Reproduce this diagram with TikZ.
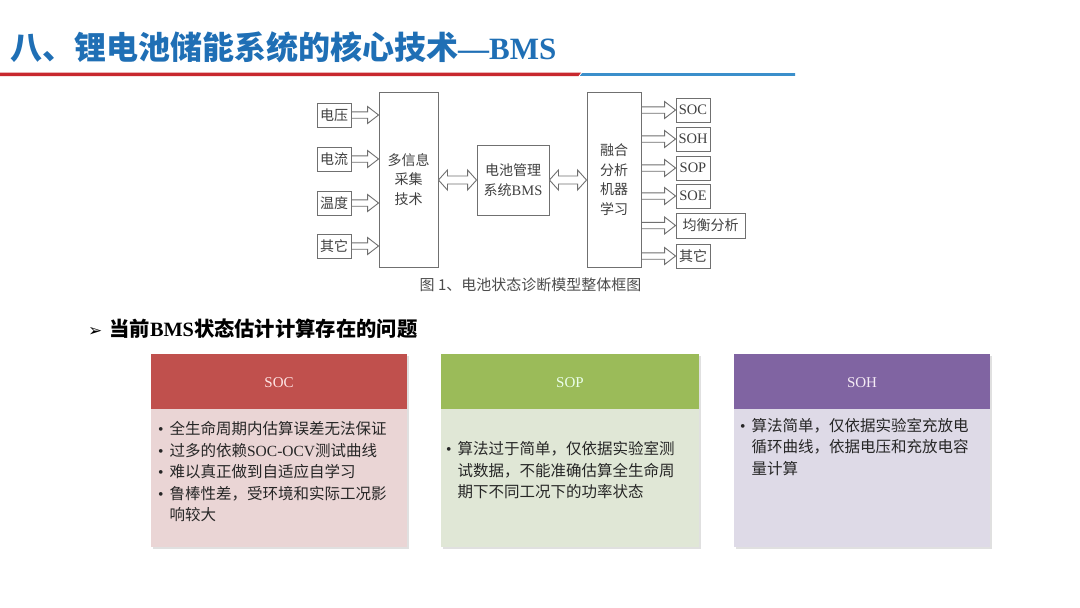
\documentclass[tikz,border=0pt]{standalone}
\usepackage{fontspec}
\setmainfont{Liberation Serif}
\newfontfamily\cjk{Noto Sans CJK SC}
\newfontfamily\dvs{DejaVu Sans}
\usetikzlibrary{calc}
\definecolor{titleblue}{HTML}{1F6FB5}
\definecolor{linered}{HTML}{C8282E}
\definecolor{lineblue}{HTML}{3B8FCB}
\definecolor{dgray}{HTML}{707070}
\definecolor{tgray}{HTML}{404040}
\definecolor{socH}{HTML}{C0504D}
\definecolor{socB}{HTML}{EAD5D5}
\definecolor{sopH}{HTML}{9BBB59}
\definecolor{sopB}{HTML}{E0E7D6}
\definecolor{sohH}{HTML}{8064A2}
\definecolor{sohB}{HTML}{DEDAE7}
\tikzset{
  box/.style={draw=dgray, line width=0.9pt, fill=white, inner sep=0pt, text=tgray,
     font=\cjk\fontsize{14}{19.5}\selectfont, align=center},
  arr/.style={draw=dgray, line width=0.9pt, fill=white},
  hdr/.style={inner sep=0pt, font=\fontsize{15}{18}\selectfont},
  bodytxt/.style={inner sep=0pt, anchor=north west, text=black!85,
     font=\cjk\fontsize{15.5}{21.5}\selectfont, align=left},
}
% hollow single arrow from node anchor #1 to the x of node anchor #2
\newcommand\harrow[2]{%
  \draw[arr] let \p1=(#1), \p2=(#2) in
   (\x1,\y1+3.2pt) -- (\x2-11pt,\y1+3.2pt) -- (\x2-11pt,\y1+8.5pt) -- (\x2,\y1)
   -- (\x2-11pt,\y1-8.5pt) -- (\x2-11pt,\y1-3.2pt) -- (\x1,\y1-3.2pt) -- cycle;}
% hollow double arrow between two node anchors
\newcommand\darrow[2]{%
  \draw[arr] let \p1=(#1), \p2=(#2) in
   (\x1,\y1) -- (\x1+9pt,\y1+10pt) -- (\x1+9pt,\y1+4pt) -- (\x2-9pt,\y1+4pt)
   -- (\x2-9pt,\y1+10pt) -- (\x2,\y1) -- (\x2-9pt,\y1-10pt) -- (\x2-9pt,\y1-4pt)
   -- (\x1+9pt,\y1-4pt) -- (\x1+9pt,\y1-10pt) -- cycle;}
\begin{document}
\begin{tikzpicture}[x=1pt,y=-1pt]
\useasboundingbox[fill=white] (0,0) rectangle (1080,608);

% ---- title ----
\node[anchor=west, inner sep=0pt, text=titleblue] (title) at (10,47)
  {{\cjk\bfseries\fontsize{32}{36}\selectfont 八、锂电池储能系统的核心技术}{\bfseries\fontsize{31}{36}\selectfont —BMS}};
\fill[linered] (0,72.6) -- (581,72.6) -- (578.5,76) -- (0,76) -- cycle;
\fill[lineblue] (582,73.2) -- (795,73.2) -- (795,75.8) -- (580,75.8) -- cycle;

% ---- diagram ----
\node[box, minimum width=34pt, minimum height=24pt] (v)  at (334,115) {电压};
\node[box, minimum width=34pt, minimum height=24pt] (i)  at (334,159) {电流};
\node[box, minimum width=34pt, minimum height=24pt] (t)  at (334,203) {温度};
\node[box, minimum width=34pt, minimum height=24pt] (o1) at (334,246) {其它};

\node[box, minimum width=59pt, minimum height=175pt] (col) at (408.5,179.5) {多信息\\采集\\技术};
\node[box, minimum width=72pt, minimum height=70pt] (bms) at (513,180)
  {电池管理\\系统{\rmfamily\fontsize{14.5}{19.5}\selectfont BMS}};
\node[box, minimum width=54pt, minimum height=175pt] (fus) at (614,179.5) {融合\\分析\\机器\\学习};

\node[box, minimum width=34pt, minimum height=24pt, font=\fontsize{14.5}{16}\selectfont] (soc) at (693,110) {SOC};
\node[box, minimum width=34pt, minimum height=24pt, font=\fontsize{14.5}{16}\selectfont] (soh) at (693,139) {SOH};
\node[box, minimum width=34pt, minimum height=24pt, font=\fontsize{14.5}{16}\selectfont] (sop) at (693,168) {SOP};
\node[box, minimum width=34pt, minimum height=24pt, font=\fontsize{14.5}{16}\selectfont] (soe) at (693,196) {SOE};
\node[box, minimum width=69pt, minimum height=25pt] (bal) at (710.5,225.5) {均衡分析};
\node[box, minimum width=34pt, minimum height=24pt] (o2) at (693,256) {其它};

\harrow{v.east}{col.west}
\harrow{i.east}{col.west}
\harrow{t.east}{col.west}
\harrow{o1.east}{col.west}
\darrow{col.east |- bms.west}{bms.west}
\darrow{bms.east}{fus.west |- bms.east}
\harrow{fus.east |- soc.west}{soc.west}
\harrow{fus.east |- soh.west}{soh.west}
\harrow{fus.east |- sop.west}{sop.west}
\harrow{fus.east |- soe.west}{soe.west}
\harrow{fus.east |- bal.west}{bal.west}
\harrow{fus.east |- o2.west}{o2.west}

\node[inner sep=0pt, text=black!70, font=\cjk\fontsize{15}{17}\selectfont] (cap) at (530.5,285)
  {图 1、电池状态诊断模型整体框图};

% ---- subtitle ----
\node[anchor=west, inner sep=0pt] (sub) at (88,329)
  {{\dvs\fontsize{17}{20}\selectfont ➢}\hspace{7pt}{\cjk\bfseries\fontsize{20.3}{22}\selectfont 当前}{\bfseries\fontsize{20.3}{22}\selectfont BMS}{\cjk\bfseries\fontsize{20.3}{22}\selectfont 状态估计计算存在的问题}};

% ---- cards ----
\foreach \xa/\xb/\hc/\bc in {151/407/socH/socB, 441/699/sopH/sopB, 734/990/sohH/sohB}{
  \fill[black!12] (\xa+2,356) rectangle (\xb+2,549);
  \fill[\bc] (\xa,354) rectangle (\xb,547);
  \fill[\hc] (\xa,354) rectangle (\xb,409);
}
\node[hdr, text=red!10!white] (h1) at (279,383) {SOC};
\node[hdr, text=green!8!white] (h2) at (570,383) {SOP};
\node[hdr, text=violet!8!white] (h3) at (862,383) {SOH};

\node[bodytxt] (b1) at (158,419.5)
 {\begin{tabular}{@{}l@{\hspace{6pt}}l@{}}
  {\rmfamily •} & 全生命周期内估算误差无法保证\\
  {\rmfamily •} & 过多的依赖{\rmfamily SOC-OCV}测试曲线\\
  {\rmfamily •} & 难以真正做到自适应自学习\\
  {\rmfamily •} & 鲁棒性差，受环境和实际工况影\\
  & 响较大
 \end{tabular}};
\node[bodytxt] (b2) at (446,439.5)
 {\begin{tabular}{@{}l@{\hspace{6pt}}l@{}}
  {\rmfamily •} & 算法过于简单，仅依据实验室测\\
  & 试数据，不能准确估算全生命周\\
  & 期下不同工况下的功率状态
 \end{tabular}};
\node[bodytxt] (b3) at (740,416)
 {\begin{tabular}{@{}l@{\hspace{6pt}}l@{}}
  {\rmfamily •} & 算法简单，仅依据实验室充放电\\
  & 循环曲线，依据电压和充放电容\\
  & 量计算
 \end{tabular}};
\end{tikzpicture}
\end{document}
